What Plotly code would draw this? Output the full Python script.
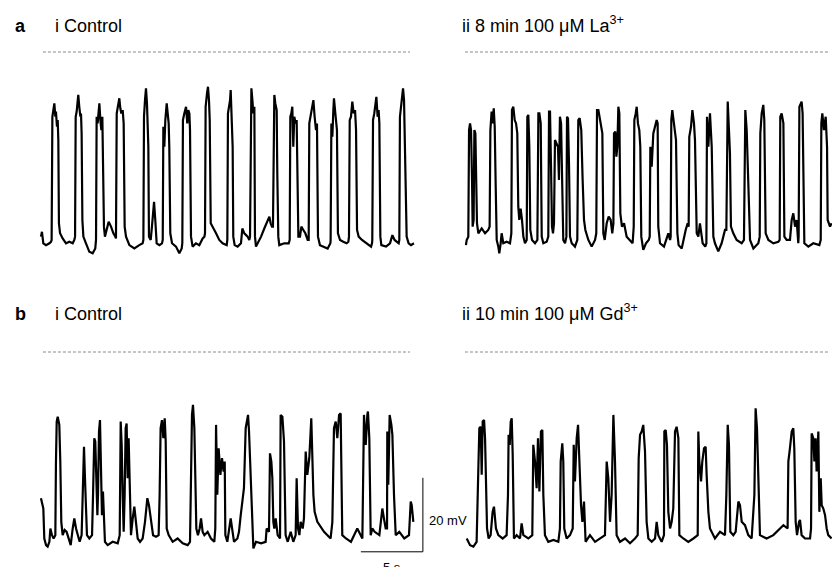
import plotly.graph_objects as go

# ---------------- data (time in s, membrane potential in mV) ----------------
# panel a i : Control
A_I = [
    (0.40, -49.9), (0.48, -48.6), (0.59, -51.7), (0.81, -52.2), (1.08, -51.7), (1.21, -51.3),
    (1.26, -50.8), (1.32, -17.5), (1.40, -15.7), (1.48, -13.9), (1.56, -17.5), (1.61, -16.1), (1.69, -20.2),
    (1.75, -18.4), (1.80, -23.8), (1.85, -46.3), (1.94, -49.0), (2.15, -50.4), (2.42, -51.7), (2.69, -51.3),
    (2.96, -51.7), (3.09, -50.8),
    (3.15, -49.9), (3.20, -17.5), (3.28, -16.1), (3.36, -13.0), (3.41, -11.6), (3.49, -14.8), (3.58, -17.5),
    (3.63, -16.6), (3.68, -22.0), (3.74, -45.4), (3.82, -49.9), (4.03, -51.7), (4.30, -54.0), (4.57, -54.4),
    (4.78, -53.1),
    (4.84, -50.8), (4.89, -17.5), (4.97, -19.3), (5.05, -16.6), (5.11, -13.9), (5.19, -18.4), (5.27, -21.1),
    (5.35, -17.5), (5.40, -25.6), (5.48, -47.2), (5.56, -49.9), (5.70, -48.1), (5.86, -45.9), (6.05, -47.2),
    (6.24, -49.0), (6.40, -49.9),
    (6.45, -50.4), (6.51, -16.6), (6.61, -14.8), (6.72, -12.5), (6.80, -15.2), (6.88, -16.6), (6.99, -15.7),
    (7.07, -19.3), (7.15, -47.2), (7.26, -49.9), (7.53, -52.2), (7.93, -53.1), (8.33, -52.2), (8.60, -51.7),
    (8.66, -50.8), (8.71, -17.5), (8.79, -13.0), (8.87, -9.8), (8.95, -13.9), (9.01, -18.4), (9.06, -25.6),
    (9.11, -49.9), (9.25, -50.8), (9.35, -47.2), (9.52, -40.5), (9.62, -45.4), (9.73, -51.7), (9.95, -52.2),
    (10.16, -51.7),
    (10.22, -50.8), (10.27, -20.2), (10.35, -25.6), (10.43, -18.4), (10.54, -13.9), (10.62, -17.5),
    (10.70, -19.3), (10.75, -25.6), (10.83, -49.0), (10.97, -51.7), (11.29, -52.6), (11.56, -54.4),
    (11.75, -53.1),
    (11.80, -51.7), (11.85, -18.4), (11.96, -16.6), (12.10, -14.8), (12.20, -19.3), (12.28, -15.7),
    (12.37, -16.6), (12.42, -21.1), (12.50, -49.9), (12.63, -52.6), (12.90, -51.7), (13.17, -52.2),
    (13.44, -50.4), (13.58, -49.9),
    (13.63, -49.0), (13.68, -14.8), (13.79, -11.2), (13.87, -9.4), (13.95, -13.0), (14.01, -18.4),
    (14.09, -46.3), (14.25, -47.2), (14.52, -49.0), (14.78, -50.8), (15.05, -51.7), (15.38, -52.2),
    (15.43, -50.8), (15.48, -16.6), (15.56, -15.2), (15.65, -13.0), (15.70, -10.3), (15.75, -14.8),
    (15.81, -21.1), (15.86, -25.6), (15.91, -49.9), (16.02, -52.2), (16.26, -52.6), (16.53, -51.7),
    (16.64, -47.7), (16.80, -49.0), (17.07, -49.9), (17.20, -50.8),
    (17.26, -49.9), (17.31, -12.1), (17.37, -9.8), (17.45, -13.0), (17.53, -16.6), (17.61, -14.8),
    (17.66, -49.9), (17.74, -52.6), (17.88, -51.7), (18.15, -49.9), (18.41, -47.7), (18.68, -45.4),
    (18.82, -44.5), (18.92, -46.3), (19.03, -47.2),
    (19.11, -47.2), (19.17, -13.0), (19.22, -11.6), (19.30, -13.9), (19.41, -15.7), (19.46, -32.8),
    (19.54, -49.9), (19.62, -52.2), (20.03, -51.7), (20.38, -51.7),
    (20.46, -50.8), (20.51, -17.5), (20.59, -16.6), (20.67, -14.8), (20.75, -25.6), (20.83, -17.5),
    (20.94, -19.3), (21.02, -18.4), (21.08, -31.9), (21.16, -49.9), (21.29, -49.9), (21.40, -47.2),
    (21.56, -48.1), (21.72, -49.0), (21.91, -50.8),
    (21.99, -50.8), (22.04, -19.3), (22.15, -17.5), (22.26, -15.7), (22.37, -13.0), (22.47, -17.5),
    (22.58, -21.1), (22.66, -19.3), (22.74, -49.9), (22.90, -52.2), (23.17, -52.6), (23.52, -53.1),
    (23.74, -51.7),
    (23.76, -50.8), (23.82, -19.3), (23.90, -22.9), (23.98, -15.7), (24.03, -12.5), (24.14, -16.6),
    (24.22, -19.3), (24.27, -21.1), (24.35, -49.0), (24.52, -50.8), (24.78, -51.3), (25.05, -51.7),
    (25.19, -51.3),
    (25.24, -49.9), (25.30, -18.4), (25.40, -17.5), (25.51, -13.4), (25.62, -16.6), (25.73, -15.7),
    (25.81, -21.1), (25.89, -48.1), (26.02, -49.9), (26.29, -50.8), (26.61, -51.7), (27.02, -52.6),
    (27.10, -51.7),
    (27.12, -50.8), (27.18, -18.4), (27.28, -16.6), (27.45, -12.1), (27.55, -17.5), (27.63, -15.7),
    (27.69, -19.3), (27.77, -49.9), (27.85, -52.2), (28.23, -52.6), (28.55, -51.7), (28.74, -49.5),
    (28.92, -50.8), (29.25, -51.7),
    (29.30, -50.8), (29.35, -17.5), (29.46, -13.9), (29.60, -9.8), (29.68, -13.0), (29.78, -30.1),
    (29.89, -49.9), (30.05, -51.7), (30.24, -52.2), (30.48, -51.7),
]

# panel a ii : 8 min 100 uM La3+
A_II = [
    (0.48, -52.2), (0.54, -50.8), (0.67, -49.9), (0.73, -21.1), (0.81, -19.3), (0.89, -21.1), (0.97, -34.6),
    (1.02, -47.2), (1.10, -45.4), (1.16, -21.1), (1.24, -22.0), (1.32, -34.6), (1.37, -46.3), (1.48, -49.0),
    (1.75, -47.7), (2.02, -49.0), (2.28, -48.1), (2.39, -47.2), (2.45, -21.1), (2.55, -16.1), (2.63, -19.3),
    (2.72, -15.2), (2.80, -20.2), (2.88, -36.4), (2.96, -50.8), (3.09, -52.6), (3.17, -54.4), (3.28, -51.7),
    (3.36, -49.0), (3.49, -51.7), (3.76, -51.3), (4.03, -51.7), (4.14, -49.0), (4.19, -15.7), (4.30, -14.8),
    (4.41, -18.4), (4.52, -19.3), (4.62, -22.0), (4.70, -41.8), (4.78, -45.4), (4.89, -42.3), (5.00, -45.4),
    (5.11, -49.9), (5.24, -51.7), (5.38, -50.8), (5.43, -17.5), (5.51, -17.0), (5.59, -25.6), (5.67, -48.1),
    (5.81, -50.8), (6.05, -51.7), (6.24, -50.8), (6.32, -16.6), (6.40, -16.6), (6.51, -19.3), (6.59, -49.9),
    (6.72, -51.7), (6.99, -51.3), (7.12, -49.9), (7.18, -16.1), (7.26, -16.1), (7.34, -31.0), (7.42, -47.2),
    (7.50, -49.0), (7.58, -46.3), (7.66, -23.8), (7.80, -24.7), (7.90, -25.6), (7.98, -34.6), (8.06, -17.5),
    (8.15, -19.3), (8.23, -37.3), (8.33, -50.8), (8.47, -51.7), (8.58, -49.9), (8.63, -17.5), (8.71, -17.9),
    (8.79, -30.1), (8.87, -49.9), (9.01, -51.7), (9.27, -52.6), (9.46, -50.8), (9.54, -18.4), (9.65, -17.9),
    (9.78, -21.1), (9.89, -34.6), (10.00, -45.4), (10.11, -48.1), (10.35, -50.8), (10.62, -52.6),
    (10.89, -50.8), (10.99, -49.0), (11.05, -15.7), (11.16, -15.7), (11.26, -17.5), (11.37, -19.3),
    (11.48, -22.0), (11.56, -49.0), (11.67, -50.8), (11.83, -46.3), (11.99, -44.5), (12.15, -45.4),
    (12.28, -49.0), (12.37, -46.3), (12.42, -22.0), (12.53, -21.5), (12.61, -28.3), (12.69, -25.6),
    (12.77, -14.8), (12.85, -16.6), (12.93, -43.6), (13.06, -47.2), (13.23, -46.3), (13.44, -49.9),
    (13.71, -50.8), (13.92, -51.7), (14.01, -47.2), (14.06, -18.4), (14.17, -16.6), (14.25, -14.8),
    (14.35, -19.3), (14.46, -21.1), (14.54, -25.6), (14.62, -49.9), (14.78, -53.5), (15.00, -51.7),
    (15.22, -50.8), (15.30, -49.9), (15.35, -25.6), (15.46, -31.0), (15.59, -22.0), (15.73, -20.2),
    (15.86, -18.4), (15.94, -19.3), (15.99, -47.2), (16.13, -51.7), (16.45, -52.6), (16.80, -49.0),
    (16.94, -50.8), (16.99, -49.9), (17.04, -18.4), (17.12, -15.7), (17.28, -21.1), (17.42, -23.8),
    (17.53, -49.0), (17.63, -52.2), (17.88, -53.1), (18.01, -50.8), (18.20, -48.1), (18.36, -46.3),
    (18.44, -47.2), (18.49, -22.9), (18.63, -20.2), (18.74, -15.7), (18.87, -19.3), (18.95, -23.8),
    (19.09, -49.0), (19.22, -49.9), (19.35, -46.3), (19.57, -51.7), (19.78, -52.6), (19.87, -51.7),
    (19.92, -17.5), (20.03, -25.6), (20.16, -16.6), (20.30, -25.6), (20.43, -49.9), (20.56, -51.7),
    (20.83, -53.9), (21.10, -51.7), (21.37, -48.1), (21.48, -48.1), (21.53, -13.9), (21.59, -13.4),
    (21.69, -21.1), (21.77, -27.4), (21.85, -47.2), (22.04, -49.0), (22.31, -50.8), (22.72, -51.7),
    (22.90, -50.8), (22.96, -16.6), (23.01, -15.7), (23.12, -21.1), (23.25, -32.8), (23.39, -50.8),
    (23.66, -53.1), (24.06, -51.7), (24.17, -49.9), (24.22, -22.0), (24.33, -16.6), (24.46, -14.3),
    (24.54, -18.4), (24.65, -49.0), (24.87, -50.8), (25.27, -51.7), (25.67, -51.3), (25.78, -50.8),
    (25.83, -17.5), (25.94, -16.6), (26.08, -19.3), (26.16, -49.9), (26.34, -50.8), (26.61, -50.8),
    (26.75, -45.4), (26.88, -43.6), (27.02, -47.2), (27.15, -45.4), (27.28, -51.7), (27.31, -49.9),
    (27.37, -14.8), (27.47, -13.9), (27.55, -13.4), (27.63, -16.6), (27.77, -51.7), (28.09, -52.6),
    (28.49, -51.7), (28.98, -52.2), (29.09, -50.8), (29.14, -19.3), (29.22, -16.6), (29.35, -21.1),
    (29.49, -17.5), (29.60, -25.6), (29.65, -45.4), (29.84, -47.2), (29.97, -46.3),
]

# panel b i : Control
B_I = [
    (0.40, -39.5), (0.48, -40.4), (0.59, -42.3), (0.67, -50.4), (0.81, -52.2), (0.94, -52.6), (1.08, -51.3),
    (1.16, -47.7), (1.29, -49.5), (1.42, -50.4), (1.56, -49.5), (1.61, -29.6), (1.67, -18.8), (1.75, -17.5),
    (1.88, -19.7), (1.96, -29.6), (2.04, -45.9), (2.15, -49.5), (2.31, -48.1), (2.47, -48.6), (2.63, -50.4),
    (2.80, -52.2), (2.96, -47.7), (3.09, -45.0), (3.23, -47.7), (3.39, -49.5), (3.52, -51.3), (3.68, -49.5),
    (3.76, -38.6), (3.87, -25.6), (3.95, -34.1), (4.03, -41.4), (4.11, -49.5), (4.30, -50.4), (4.52, -49.5),
    (4.60, -38.6), (4.70, -23.3), (4.78, -24.2), (4.87, -33.2), (4.95, -44.1), (5.00, -38.6), (5.08, -21.5),
    (5.16, -18.4), (5.24, -29.6), (5.32, -44.1), (5.40, -37.7), (5.48, -45.9), (5.56, -51.3), (5.78, -52.2),
    (6.18, -51.3), (6.59, -51.7), (6.75, -49.5), (6.83, -18.8), (6.91, -25.1), (6.99, -38.6), (7.07, -48.6),
    (7.15, -38.6), (7.23, -20.6), (7.31, -19.3), (7.39, -34.1), (7.47, -23.3), (7.55, -36.8), (7.66, -49.5),
    (7.80, -45.0), (7.93, -41.8), (8.06, -45.9), (8.20, -50.4), (8.39, -51.3), (8.60, -50.4), (8.79, -45.9),
    (8.98, -39.5), (9.11, -41.4), (9.27, -45.9), (9.44, -49.5), (9.68, -49.9), (9.89, -49.5), (9.97, -38.6),
    (10.05, -20.6), (10.16, -18.4), (10.27, -23.3), (10.38, -17.9), (10.46, -24.2), (10.54, -47.7),
    (10.70, -49.5), (11.02, -51.3), (11.42, -50.4), (11.83, -51.7), (12.23, -52.2), (12.42, -51.3),
    (12.50, -29.6), (12.58, -17.0), (12.66, -14.3), (12.77, -20.6), (12.85, -34.1), (12.93, -47.7),
    (13.06, -49.5), (13.20, -47.7), (13.31, -45.0), (13.44, -48.6), (13.58, -49.5), (13.84, -48.6),
    (14.11, -50.4), (14.38, -51.3), (14.46, -47.7), (14.52, -19.7), (14.62, -38.6), (14.73, -26.0),
    (14.87, -33.2), (15.00, -28.7), (15.13, -32.3), (15.22, -29.6), (15.27, -49.5), (15.43, -51.3),
    (15.70, -45.0), (15.83, -47.7), (15.97, -51.3), (16.24, -50.4), (16.37, -48.6), (16.51, -44.1),
    (16.64, -40.4), (16.77, -36.8), (16.91, -20.6), (17.04, -17.9), (17.10, -17.0), (17.18, -21.5),
    (17.31, -35.0), (17.45, -49.5), (17.53, -53.1), (17.74, -51.3), (18.15, -51.7), (18.52, -51.3),
    (18.60, -47.7), (18.79, -48.6), (18.87, -27.4), (18.98, -29.6), (19.06, -34.1), (19.14, -45.9),
    (19.22, -47.7), (19.33, -45.0), (19.49, -49.5), (19.68, -50.4), (19.73, -17.0), (19.87, -17.5),
    (20.00, -24.2), (20.13, -49.5), (20.30, -51.3), (20.54, -48.6), (20.75, -51.3), (20.94, -49.5),
    (21.02, -34.1), (21.13, -47.7), (21.24, -49.5), (21.34, -45.9), (21.51, -47.7), (21.61, -45.0),
    (21.75, -26.9), (21.88, -33.2), (22.04, -28.7), (22.20, -17.9), (22.37, -38.6), (22.47, -43.2),
    (22.69, -45.9), (23.23, -48.6), (23.76, -50.4), (23.90, -45.9), (24.03, -20.6), (24.17, -18.8),
    (24.30, -23.3), (24.44, -17.0), (24.57, -16.6), (24.62, -29.6), (24.70, -49.5), (25.00, -50.4),
    (25.40, -51.3), (25.91, -47.7), (26.32, -50.4), (26.45, -17.0), (26.59, -25.1), (26.72, -17.0),
    (26.77, -16.1), (26.88, -23.3), (26.99, -49.5), (27.12, -47.7), (27.31, -48.6), (27.69, -49.5),
    (27.93, -42.3), (28.06, -45.0), (28.20, -47.7), (28.31, -47.7), (28.33, -21.5), (28.41, -35.9),
    (28.52, -17.0), (28.66, -19.7), (28.74, -22.4), (28.87, -38.6), (29.01, -49.5), (29.30, -48.6),
    (29.70, -50.4), (30.08, -49.5), (30.22, -40.4), (30.30, -41.4), (30.35, -43.2), (30.43, -45.9),
]

# panel b ii : 10 min 100 uM Gd3+
B_II = [
    (0.54, -50.4), (0.81, -52.2), (1.08, -52.6), (1.34, -51.3), (1.48, -31.4), (1.56, -20.6), (1.67, -20.2),
    (1.75, -33.2), (1.83, -18.8), (1.94, -18.4), (2.02, -23.3), (2.10, -38.6), (2.18, -47.7), (2.31, -50.4),
    (2.47, -49.5), (2.63, -43.2), (2.74, -41.8), (2.90, -47.7), (3.09, -49.5), (3.44, -50.4), (3.76, -49.5),
    (3.87, -38.6), (3.92, -22.4), (4.01, -25.1), (4.09, -18.8), (4.17, -17.9), (4.25, -27.8), (4.35, -50.4),
    (4.57, -49.5), (4.84, -50.4), (4.97, -46.3), (5.11, -49.5), (5.51, -50.4), (5.83, -49.5), (5.91, -25.1),
    (6.05, -29.6), (6.18, -36.8), (6.29, -23.3), (6.40, -37.7), (6.53, -21.5), (6.64, -21.1), (6.72, -38.6),
    (6.85, -49.5), (7.12, -51.3), (7.53, -50.8), (7.93, -51.3), (8.06, -47.7), (8.12, -29.6), (8.25, -24.7),
    (8.33, -29.6), (8.41, -47.7), (8.60, -50.4), (8.87, -49.5), (9.09, -47.7), (9.17, -25.1), (9.27, -35.0),
    (9.41, -23.3), (9.52, -19.7), (9.62, -31.4), (9.76, -41.4), (9.87, -45.9), (10.00, -40.4), (10.13, -51.3),
    (10.48, -49.5), (10.89, -51.3), (11.29, -50.4), (11.69, -49.5), (11.83, -29.6), (11.96, -34.1),
    (12.10, -45.9), (12.23, -38.6), (12.37, -17.0), (12.50, -29.6), (12.63, -49.5), (12.90, -51.3),
    (13.31, -50.4), (13.71, -51.7), (14.11, -50.4), (14.33, -49.5), (14.41, -28.7), (14.52, -22.4),
    (14.65, -21.5), (14.78, -19.7), (14.92, -26.9), (15.05, -45.9), (15.19, -50.4), (15.46, -51.3),
    (15.73, -50.4), (15.86, -45.9), (15.99, -49.5), (16.26, -51.3), (16.45, -49.5), (16.48, -21.5),
    (16.59, -21.1), (16.69, -25.1), (16.80, -43.2), (16.94, -47.7), (17.07, -45.9), (17.20, -42.3),
    (17.34, -21.5), (17.47, -20.2), (17.61, -23.3), (17.69, -49.5), (18.01, -50.4), (18.41, -51.3),
    (18.82, -50.4), (19.17, -49.5), (19.22, -21.5), (19.30, -29.6), (19.44, -35.0), (19.54, -29.6),
    (19.68, -26.0), (19.81, -25.6), (19.89, -33.2), (20.03, -43.2), (20.16, -47.7), (20.56, -50.4),
    (20.97, -48.6), (21.37, -49.5), (21.48, -38.6), (21.53, -19.7), (21.59, -19.7), (21.69, -25.1),
    (21.80, -48.6), (22.04, -49.5), (22.23, -48.6), (22.45, -40.4), (22.58, -41.4), (22.72, -45.9),
    (22.98, -46.8), (23.25, -49.5), (23.52, -50.4), (23.74, -38.6), (23.79, -17.0), (23.84, -15.2),
    (23.95, -20.6), (24.06, -35.0), (24.19, -49.5), (24.73, -50.4), (25.27, -49.5), (25.81, -47.7),
    (26.08, -46.8), (26.42, -47.7), (26.48, -29.6), (26.61, -26.0), (26.75, -21.5), (26.88, -20.6),
    (26.96, -26.0), (27.07, -45.9), (27.18, -49.5), (27.34, -45.9), (27.42, -45.4), (27.55, -49.5),
    (27.82, -50.4), (28.23, -50.4), (28.31, -47.7), (28.36, -22.0), (28.49, -23.3), (28.58, -29.6),
    (28.68, -23.3), (28.76, -32.3), (28.90, -21.5), (28.98, -43.2), (29.09, -34.1), (29.17, -41.4),
    (29.30, -42.3), (29.44, -44.1), (29.57, -47.7), (29.70, -49.5), (29.97, -50.4),
]

PANEL_TITLES = ["i Control", "ii 8 min 100 \u03bcM La<sup>3+</sup>",
                "i Control", "ii 10 min 100 \u03bcM Gd<sup>3+</sup>"]
ROW_LABELS = ["a", "b"]
SCALE_T = 5.0    # s
SCALE_V = 20.0   # mV
SCALE_LABELS = ["20 mV", "5 s"]

# ---------------- layout helpers ----------------
W, H = 833, 567
PX_PER_S = 12.4
PX_PER_MV = 3.7


def fx(px):
    return px / W


def fy(py):
    return 1 - py / H


def xdom(left_px, t_range):
    return [fx(left_px), fx(left_px + t_range * PX_PER_S)]


def ydom(zero_px, v_range):
    lo, hi = v_range
    return [fy(zero_px - lo * PX_PER_MV), fy(zero_px - hi * PX_PER_MV)]


fig = go.Figure()

panels = [
    (A_I, "x", "y"),
    (A_II, "x2", "y2"),
    (B_I, "x3", "y3"),
    (B_II, "x4", "y4"),
]
for data, xa, ya in panels:
    t = [p[0] for p in data]
    v = [p[1] for p in data]
    fig.add_trace(go.Scatter(x=t, y=v, mode="lines", xaxis=xa, yaxis=ya,
                             line=dict(color="black", width=2.2),
                             hoverinfo="skip", showlegend=False, cliponaxis=False))

# scale bar (in panel b i coordinates)
sb_t1, sb_v0 = 31.2, -54.0
fig.add_trace(go.Scatter(x=[sb_t1 - SCALE_T, sb_t1, sb_t1],
                         y=[sb_v0, sb_v0, sb_v0 + SCALE_V],
                         mode="lines", xaxis="x3", yaxis="y3",
                         line=dict(color="black", width=1),
                         hoverinfo="skip", showlegend=False, cliponaxis=False))

ax_common = dict(visible=False, showgrid=False, zeroline=False, fixedrange=True)
ra_a, ra_b = [-60, 5], [-57, 3]
fig.update_layout(
    width=W, height=H,
    margin=dict(l=0, r=0, t=0, b=0),
    paper_bgcolor="white", plot_bgcolor="rgba(0,0,0,0)",
    showlegend=False,
    xaxis=dict(domain=xdom(36, 30.6), range=[0, 30.6], anchor="y", **ax_common),
    yaxis=dict(domain=ydom(52, ra_a), range=ra_a, anchor="x", **ax_common),
    xaxis2=dict(domain=xdom(460, 30.0), range=[0, 30.0], anchor="y2", **ax_common),
    yaxis2=dict(domain=ydom(52, ra_a), range=ra_a, anchor="x2", **ax_common),
    xaxis3=dict(domain=xdom(36, 31.5), range=[0, 31.5], anchor="y3", **ax_common),
    yaxis3=dict(domain=ydom(352, ra_b), range=ra_b, anchor="x3", **ax_common),
    xaxis4=dict(domain=xdom(460, 30.0), range=[0, 30.0], anchor="y4", **ax_common),
    yaxis4=dict(domain=ydom(352, ra_b), range=ra_b, anchor="x4", **ax_common),
)

# dotted 0 mV reference lines
dash_spans = [("x", "y", 0.56, 30.16), ("x2", "y2", 0.40, 29.84),
              ("x3", "y3", 0.56, 30.16), ("x4", "y4", 0.40, 29.84)]
for xr, yr, t0, t1 in dash_spans:
    fig.add_shape(type="line", xref=xr, yref=yr, x0=t0, x1=t1, y0=0, y1=0,
                  line=dict(color="#8a8a8a", width=1, dash="3px,2px"))

FONT = "Liberation Sans, Arial, sans-serif"
ann = []
for i, (lab, base) in enumerate(zip(ROW_LABELS, [38, 326])):
    ann.append(dict(text="<b>%s</b>" % lab, x=fx(13), y=fy(base), xanchor="left", yanchor="bottom",
                    xref="paper", yref="paper",
                    showarrow=False, font=dict(family=FONT, size=18, color="black")))
    ann.append(dict(text=PANEL_TITLES[2 * i], x=fx(53), y=fy(base), xanchor="left", yanchor="bottom",
                    xref="paper", yref="paper",
                    showarrow=False, font=dict(family=FONT, size=18, color="black")))
    ann.append(dict(text=PANEL_TITLES[2 * i + 1], x=fx(460), y=fy(base), xanchor="left", yanchor="bottom",
                    xref="paper", yref="paper",
                    showarrow=False, font=dict(family=FONT, size=18, color="black")))
ann.append(dict(text=SCALE_LABELS[0], x=fx(427), y=fy(520), xanchor="left", yanchor="middle",
                xref="paper", yref="paper",
                showarrow=False, font=dict(family=FONT, size=13, color="black")))
ann.append(dict(text=SCALE_LABELS[1], x=fx(392), y=fy(558), xanchor="center", yanchor="top",
                xref="paper", yref="paper",
                showarrow=False, font=dict(family=FONT, size=13, color="black")))
fig.update_layout(annotations=ann)

fig.write_html("out.html", config={"displayModeBar": False},
               post_script="document.body.style.margin='0px';")
